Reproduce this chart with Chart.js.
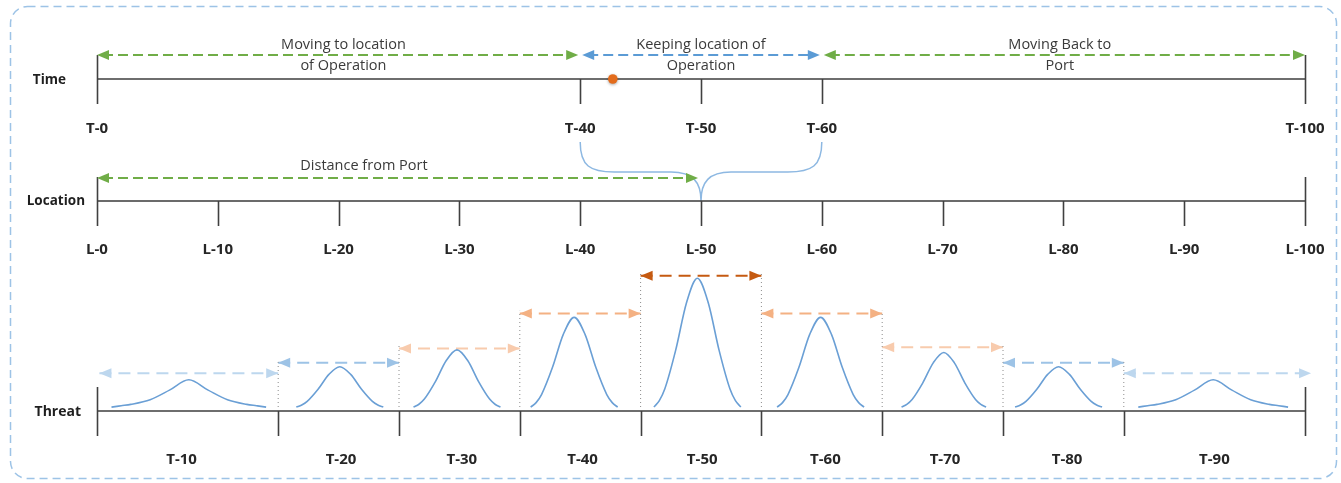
<!DOCTYPE html>
<html>
<head>
<meta charset="utf-8">
<script src="https://cdn.jsdelivr.net/npm/chart.js@4.4.1/dist/chart.umd.min.js"></script>
<style>
  html, body { margin: 0; padding: 0; background: #fff; }
  #wrap { position: relative; width: 1341px; height: 483px; }
</style>
</head>
<body>
<div id="wrap"><canvas id="phaseChart" width="1341" height="483"></canvas></div>
<script>
// time row
const timeTicks = [0, 40, 50, 60, 100];
const timeLabels = ['T-0', 'T-40', 'T-50', 'T-60', 'T-100'];
const phaseSpans = [[0, 40], [40, 60], [60, 100]];
const phaseNames = [['Moving to location', 'of Operation'], ['Keeping location of', 'Operation'], ['Moving Back to', 'Port']];
const phaseLabelX = [20.4, 50, 79.7];
const phaseColors = ['#70ad47', '#5b9bd5', '#70ad47'];
const currentTime = 42.7;

// location row
const locationTicks = [0, 10, 20, 30, 40, 50, 60, 70, 80, 90, 100];
const locationLabels = ['L-0', 'L-10', 'L-20', 'L-30', 'L-40', 'L-50', 'L-60', 'L-70', 'L-80', 'L-90', 'L-100'];
const distanceSpan = [0, 50];
const distanceLabelX = 22.1;

// threat row
const threatTicks = [0, 15, 25, 35, 45, 55, 65, 75, 85, 100];
const threatLabels = ['T-10', 'T-20', 'T-30', 'T-40', 'T-50', 'T-60', 'T-70', 'T-80', 'T-90'];
const threatLabelX = [7, 20.2, 30.2, 40.2, 50.1, 60.3, 70.2, 80.3, 92.5];
const threatCenters = [7.6, 20.1, 29.8, 39.5, 49.7, 59.9, 70.1, 79.6, 92.4];
const threatPeaks = [21, 31, 44, 69, 99, 69, 42, 31, 21];
const threatHalfWidths = [6.4, 3.6, 3.6, 3.6, 3.6, 3.6, 3.5, 3.6, 6.2];
const threatWide = [true, false, false, false, false, false, false, false, true];
const bandSpans = [[0.2, 15], [15, 25], [25, 35], [35, 45], [45, 55], [55, 65], [65, 75], [75, 85], [85, 100.5]];
const bandLevels = [26, 34, 45, 72, 101, 72, 46, 34, 26];
const bandColors = ['#bdd7ee', '#9dc3e6', '#f8cbad', '#f4b183', '#c55a11', '#f4b183', '#f8cbad', '#9dc3e6', '#bdd7ee'];
// bell outlines: offset from centre (in half-widths) and share of the peak
const bellShapeX = [-1, -0.875, -0.75, -0.5, -0.25, 0, 0.25, 0.5, 0.75, 0.875, 1];
const bellNarrowY = [0, 0.05, 0.14, 0.44, 0.81, 1, 0.81, 0.44, 0.14, 0.05, 0];
const bellWideY = [0, 0.05, 0.1, 0.27, 0.62, 1, 0.62, 0.27, 0.1, 0.05, 0];

const TIME_Y = 79;
const LOC_Y = 201;
const AXIS_VALUE = -3;
const boldFont = 'bold 15px "Open Sans", sans-serif';
const nameFont = 'bold 13.5px "Open Sans", sans-serif';
const textFont = '14.5px "Open Sans", sans-serif';

function arrowHead(ctx, x, y, dir, color) {
  ctx.save();
  ctx.fillStyle = color;
  ctx.beginPath();
  ctx.moveTo(x, y);
  ctx.lineTo(x - dir * 12, y - 5);
  ctx.lineTo(x - dir * 12, y + 5);
  ctx.closePath();
  ctx.fill();
  ctx.restore();
}

function dashedArrow(ctx, x0, x1, y, color) {
  ctx.save();
  ctx.strokeStyle = color;
  ctx.lineWidth = 1.8;
  ctx.setLineDash([10, 5]);
  ctx.beginPath();
  ctx.moveTo(x0 + 6, y);
  ctx.lineTo(x1 - 6, y);
  ctx.stroke();
  ctx.restore();
  arrowHead(ctx, x0, y, -1, color);
  arrowHead(ctx, x1, y, 1, color);
}

function axisRow(ctx, xs, ticks, y, lineColor, lineWidth) {
  const first = xs.getPixelForValue(ticks[0]);
  const last = xs.getPixelForValue(ticks[ticks.length - 1]);
  ctx.save();
  ctx.strokeStyle = lineColor;
  ctx.lineWidth = lineWidth;
  ctx.beginPath();
  ctx.moveTo(first, y);
  ctx.lineTo(last, y);
  ctx.stroke();
  ctx.strokeStyle = '#404040';
  ctx.lineWidth = 1.6;
  ticks.forEach((t, i) => {
    const px = Math.round(xs.getPixelForValue(t)) + 0.5;
    const end = i === 0 || i === ticks.length - 1;
    ctx.beginPath();
    ctx.moveTo(px, end ? y - 24 : y);
    ctx.lineTo(px, y + 25);
    ctx.stroke();
  });
  ctx.restore();
}

function text(ctx, str, x, y, font, color, align) {
  ctx.save();
  ctx.font = font;
  ctx.fillStyle = color;
  ctx.textAlign = align || 'center';
  ctx.textBaseline = 'middle';
  ctx.fillText(str, x, y);
  ctx.restore();
}

const diagramPlugin = {
  id: 'diagram',
  beforeDraw(chart) {
    const ctx = chart.ctx;
    ctx.save();
    ctx.strokeStyle = '#9dc3e6';
    ctx.lineWidth = 1.5;
    ctx.setLineDash([8, 5]);
    ctx.beginPath();
    ctx.roundRect(10.5, 6.5, 1326, 472, 17);
    ctx.stroke();
    ctx.restore();
  },
  afterDatasetsDraw(chart) {
    const ctx = chart.ctx;
    const xs = chart.scales.x;
    const ys = chart.scales.y;
    const threatY = ys.getPixelForValue(AXIS_VALUE);

    // row names
    text(ctx, 'Time', 66, TIME_Y + 1, nameFont, '#1f1f1f', 'right');
    text(ctx, 'Location', 85, LOC_Y, nameFont, '#1f1f1f', 'right');
    text(ctx, 'Threat', 81, threatY + 1, 'bold 14px "Open Sans", sans-serif', '#1f1f1f', 'right');

    // time row
    axisRow(ctx, xs, timeTicks, TIME_Y, '#6e6e6e', 2);
    timeTicks.forEach((t, i) => text(ctx, timeLabels[i], xs.getPixelForValue(t), TIME_Y + 50, boldFont, '#262626'));
    phaseSpans.forEach((s, i) => {
      const a = xs.getPixelForValue(s[0]) + (i === 0 ? 0 : 2);
      const b = xs.getPixelForValue(s[1]) - (i === phaseSpans.length - 1 ? 0 : 2);
      dashedArrow(ctx, a, b, TIME_Y - 24, phaseColors[i]);
      const cx = xs.getPixelForValue(phaseLabelX[i]);
      text(ctx, phaseNames[i][0], cx, TIME_Y - 34, textFont, '#3a3a3a');
      text(ctx, phaseNames[i][1], cx, TIME_Y - 13, textFont, '#3a3a3a');
    });
    ctx.save();
    ctx.shadowColor = 'rgba(0,0,0,0.35)';
    ctx.shadowBlur = 3;
    ctx.shadowOffsetY = 1;
    ctx.fillStyle = '#e36c1c';
    ctx.beginPath();
    ctx.arc(xs.getPixelForValue(currentTime), TIME_Y, 4.8, 0, Math.PI * 2);
    ctx.fill();
    ctx.restore();

    // brace joining the operation window to its location
    const x40 = xs.getPixelForValue(phaseSpans[1][0]);
    const x60 = xs.getPixelForValue(phaseSpans[1][1]);
    const x50 = xs.getPixelForValue(distanceSpan[1]);
    ctx.save();
    ctx.strokeStyle = '#8db8e2';
    ctx.lineWidth = 1.5;
    ctx.beginPath();
    ctx.moveTo(x40, 142);
    ctx.bezierCurveTo(x40, 166, x40 + 10, 172, x40 + 34, 172);
    ctx.lineTo(x50 - 30, 172);
    ctx.bezierCurveTo(x50 - 8, 172, x50, 182, x50, LOC_Y);
    ctx.moveTo(x60, 142);
    ctx.bezierCurveTo(x60, 166, x60 - 10, 172, x60 - 34, 172);
    ctx.lineTo(x50 + 30, 172);
    ctx.bezierCurveTo(x50 + 8, 172, x50, 182, x50, LOC_Y);
    ctx.stroke();
    ctx.restore();

    // location row
    axisRow(ctx, xs, locationTicks, LOC_Y, '#3a3a3a', 1.5);
    locationTicks.forEach((t, i) => text(ctx, locationLabels[i], xs.getPixelForValue(t), LOC_Y + 49, boldFont, '#262626'));
    dashedArrow(ctx, xs.getPixelForValue(distanceSpan[0]), xs.getPixelForValue(distanceSpan[1]) - 3, LOC_Y - 23, '#70ad47');
    text(ctx, 'Distance from Port', xs.getPixelForValue(distanceLabelX), LOC_Y - 35, textFont, '#3a3a3a');

    // threat row
    axisRow(ctx, xs, threatTicks, threatY, '#6e6e6e', 2);
    threatLabels.forEach((l, i) => text(ctx, l, xs.getPixelForValue(threatLabelX[i]), threatY + 49, boldFont, '#262626'));
    chart.data.datasets.forEach((ds) => {
      if (!ds.bandArrow) return;
      const p0 = ds.data[0], p1 = ds.data[1];
      const y = ys.getPixelForValue(p0.y);
      arrowHead(ctx, xs.getPixelForValue(p0.x), y, -1, ds.borderColor);
      arrowHead(ctx, xs.getPixelForValue(p1.x), y, 1, ds.borderColor);
    });
  }
};

const datasets = [];
// dotted band separators
for (let i = 1; i < threatTicks.length - 1; i++) {
  const top = Math.max(bandLevels[i - 1], bandLevels[i]) + 2;
  datasets.push({
    data: [{ x: threatTicks[i], y: AXIS_VALUE }, { x: threatTicks[i], y: top }],
    borderColor: '#8c8c8c',
    borderWidth: 1,
    borderDash: [1, 3],
    pointRadius: 0,
    clip: false
  });
}
// threat bells
threatCenters.forEach((c, i) => {
  const shape = threatWide[i] ? bellWideY : bellNarrowY;
  datasets.push({
    data: bellShapeX.map((t, k) => ({ x: c + t * threatHalfWidths[i], y: shape[k] * threatPeaks[i] })),
    borderColor: '#6a9fd5',
    borderWidth: 1.6,
    pointRadius: 0,
    cubicInterpolationMode: 'monotone',
    clip: false
  });
});
// threat band arrows
bandSpans.forEach((s, i) => {
  datasets.push({
    bandArrow: true,
    data: [{ x: s[0], y: bandLevels[i] }, { x: s[1], y: bandLevels[i] }],
    borderColor: bandColors[i],
    borderWidth: 2,
    borderDash: [12, 7],
    pointRadius: 0,
    clip: false
  });
});

new Chart(document.getElementById('phaseChart').getContext('2d'), {
  type: 'line',
  data: { datasets },
  options: {
    responsive: false,
    animation: false,
    devicePixelRatio: 1,
    layout: { padding: { left: 97, right: 36, top: 277, bottom: 72 } },
    plugins: { legend: { display: false }, tooltip: { enabled: false } },
    scales: {
      x: { type: 'linear', min: 0, max: 100, display: false },
      y: { type: 'linear', min: AXIS_VALUE, max: 100, display: false }
    }
  },
  plugins: [diagramPlugin]
});
</script>
</body>
</html>
